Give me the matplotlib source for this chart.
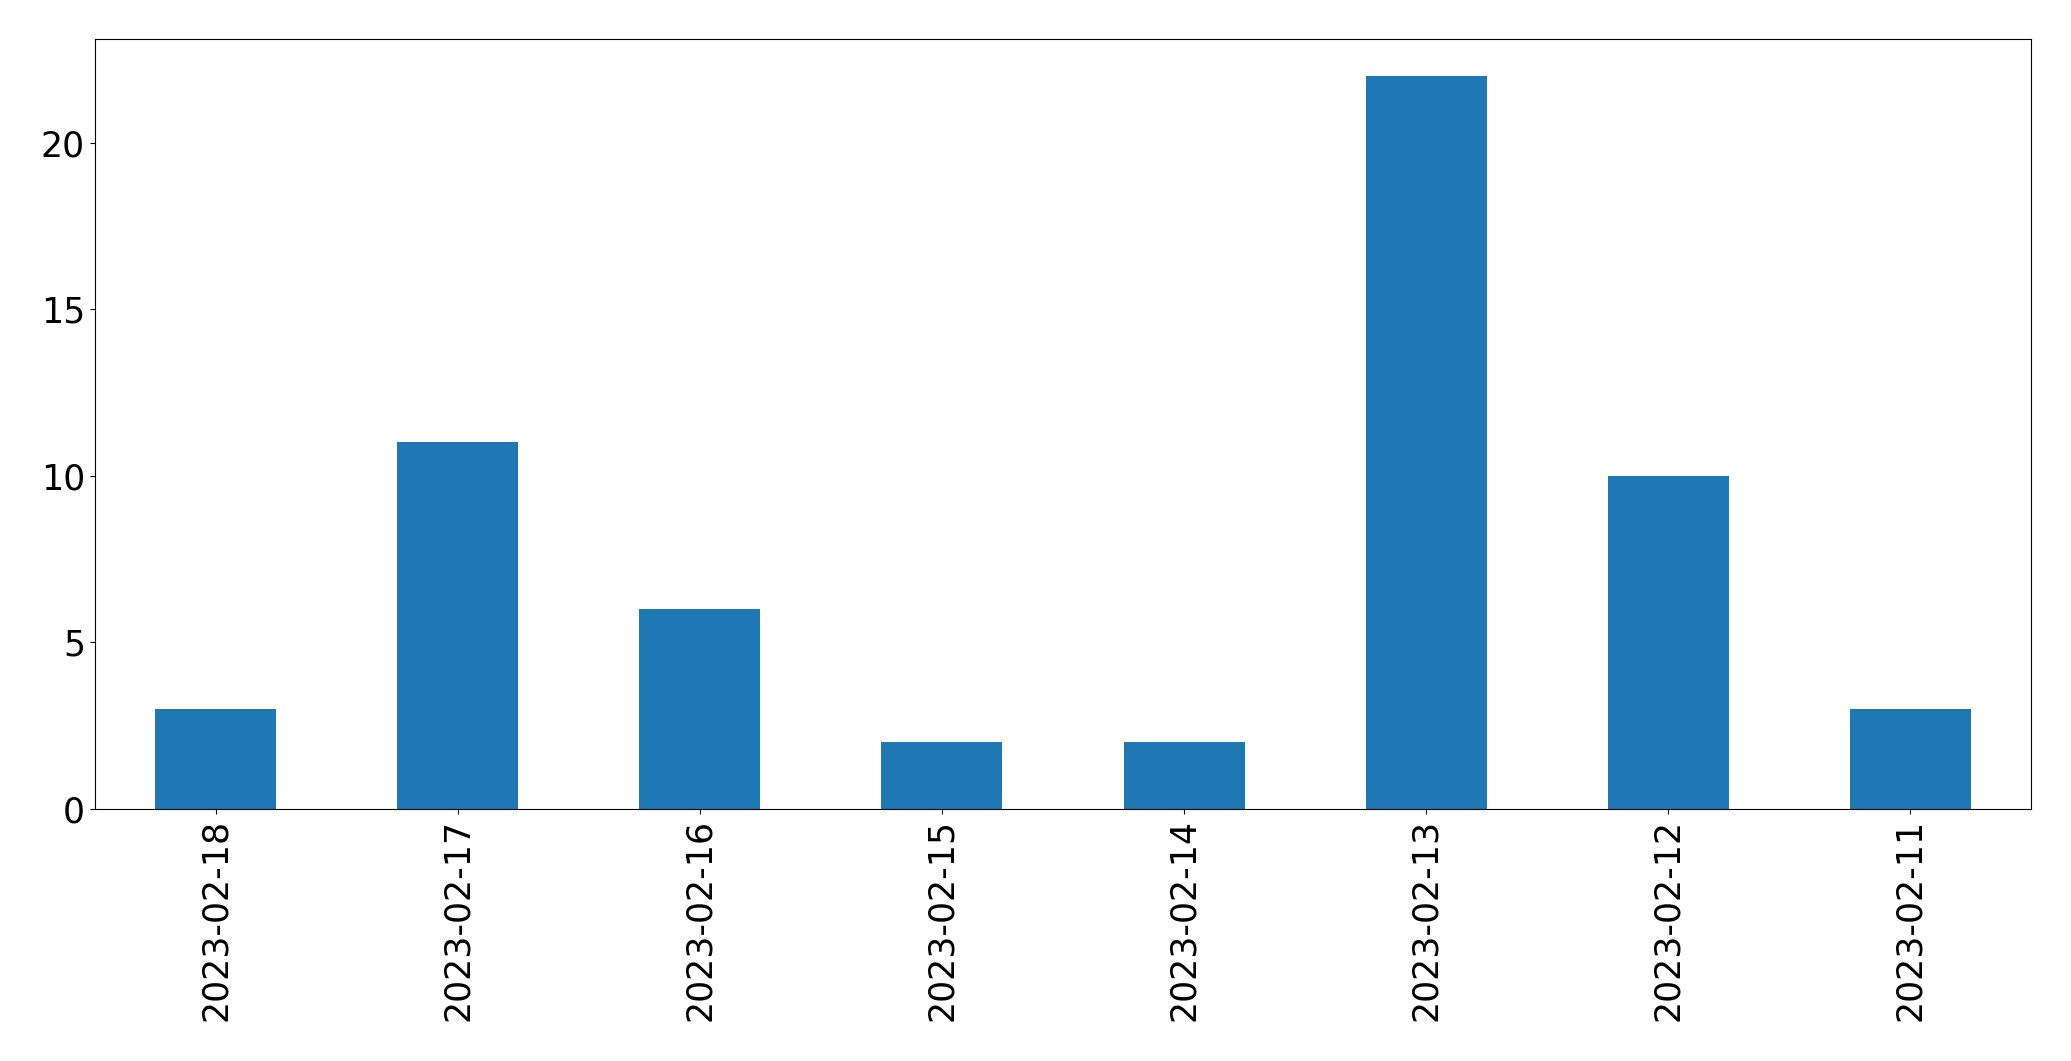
import pandas as pd
import matplotlib
matplotlib.use('Agg')
import matplotlib.pyplot as plt

# contagem por dia
datas = ['2023-02-18', '2023-02-17', '2023-02-16', '2023-02-15',
         '2023-02-14', '2023-02-13', '2023-02-12', '2023-02-11']
contagem = [3, 11, 6, 2, 2, 22, 10, 3]

serie = pd.Series(contagem, index=datas)

fig = plt.figure(figsize=(20.71, 10.61), dpi=100)
ax = fig.add_axes([94.7/2071, 1 - 809/1061, (2031.3-94.7)/2071, (809-39.3)/1061])

serie.plot(kind='bar', ax=ax, color='#1f77b4', fontsize=25)

fig.savefig('out.png', dpi=100)
